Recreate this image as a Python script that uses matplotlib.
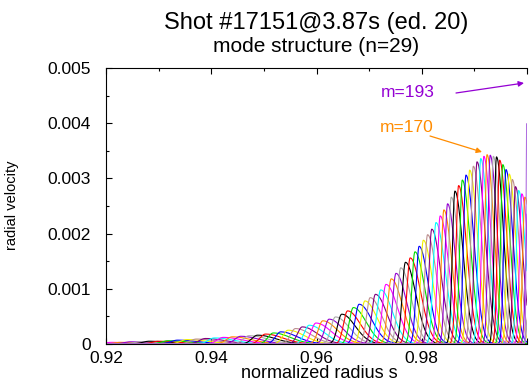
import numpy as np
import matplotlib
matplotlib.use("Agg")
import matplotlib.pyplot as plt
from matplotlib.ticker import MultipleLocator, FuncFormatter

plt.rcParams['font.family'] = ['Liberation Sans', 'DejaVu Sans']

# peak radius and peak amplitude of each harmonic (n=29)
peak_s = [0.9210, 0.9228, 0.9246, 0.9264, 0.9282, 0.9300, 0.9318, 0.9336, 0.9354, 0.9372,
          0.9389, 0.9406, 0.9423, 0.9440, 0.9456, 0.9472, 0.9488, 0.9503, 0.9518, 0.9532,
          0.9546, 0.9560, 0.9573, 0.9586, 0.9599, 0.9612, 0.9624, 0.9636, 0.9648, 0.9659,
          0.9670, 0.9681, 0.9692, 0.9702, 0.9712, 0.9722, 0.9732, 0.9742, 0.9751, 0.9760,
          0.9769, 0.9778, 0.9787, 0.9795, 0.9803, 0.9811, 0.9819, 0.9827, 0.9835, 0.9842,
          0.9849, 0.9856, 0.9863, 0.9870, 0.9877, 0.9884, 0.9891, 0.9898, 0.9905, 0.9912,
          0.9918, 0.9924, 0.9930, 0.9936, 0.9942, 0.9948, 0.9954, 0.9960, 0.9966, 0.9972,
          0.9978, 0.9984, 0.9990, 0.9996, 1.0002, 1.0008]
peak_amp = [0.00003, 0.00003, 0.00004, 0.00004, 0.00005, 0.00005, 0.00006, 0.00007, 0.00008, 0.00009,
            0.00010, 0.00011, 0.00012, 0.00013, 0.00014, 0.00015, 0.00016, 0.00018, 0.00020, 0.00022,
            0.00025, 0.00028, 0.00031, 0.00034, 0.00038, 0.00042, 0.00045, 0.00049, 0.00054, 0.00060,
            0.00066, 0.00072, 0.00078, 0.00084, 0.00090, 0.00098, 0.00108, 0.00118, 0.00128, 0.00138,
            0.00148, 0.00156, 0.00167, 0.00177, 0.00188, 0.00198, 0.00208, 0.00220, 0.00232, 0.00243,
            0.00254, 0.00266, 0.00277, 0.00287, 0.00297, 0.00306, 0.00315, 0.00322, 0.00330, 0.00336,
            0.00340, 0.00343, 0.00342, 0.00340, 0.00339, 0.00333, 0.00325, 0.00316, 0.00308, 0.00298,
            0.00285, 0.00278, 0.00272, 0.00266, 0.00262, 0.00258]
m_first = 109

# the m=193 harmonic sits right on the edge
edge_m = 193
edge_s = 0.99995
edge_amp = 0.0040

colors = ['#ff8c00', '#9400d3', '#a9a9a9', 'black', 'red', '#00dd00',
          'blue', '#f0f000', '#bc8f8f', '#800080', 'cyan', 'magenta']

fig = plt.figure(figsize=(5.29, 3.85), dpi=100)
ax = fig.add_axes([106 / 529, 41 / 385, 421 / 529, 276 / 385])

s = np.linspace(0.918, 1.002, 4000)
spacing = np.gradient(peak_s)
for i, (p, a, d) in enumerate(zip(peak_s, peak_amp, spacing)):
    m = m_first + i
    left = a * np.exp(-0.5 * ((s - p) / (0.7 * d)) ** 2)
    right = a * np.exp(-0.5 * ((s - p) / (2.2 * d)) ** 2)
    ax.plot(s, np.where(s < p, left, right), color=colors[(m - 170) % len(colors)], lw=0.8)

edge = edge_amp * np.exp(-0.5 * ((s - edge_s) / 0.00012) ** 2)
ax.plot(s, edge, color='#b070e0', lw=0.8)

ax.set_xlim(0.92, 1.0)
ax.set_ylim(0, 0.005)
ax.xaxis.set_major_locator(MultipleLocator(0.02))
ax.xaxis.set_minor_locator(MultipleLocator(0.01))
ax.yaxis.set_major_locator(MultipleLocator(0.001))
ax.yaxis.set_minor_locator(MultipleLocator(0.0005))
# the label at s=1 falls outside the picture in the original
ax.xaxis.set_major_formatter(FuncFormatter(lambda v, _: f"{v:g}" if v < 0.999 else ""))
ax.yaxis.set_major_formatter(FuncFormatter(lambda v, _: f"{v:g}"))
ax.tick_params(which='both', direction='in', top=True, right=False, width=0.8)
ax.tick_params(which='major', length=4.5, labelsize=12.5)
ax.tick_params(which='minor', length=2.5)
ax.tick_params(axis='y', pad=11)
ax.tick_params(axis='x', pad=5)
ax.spines['right'].set_visible(False)
for sp in ('left', 'top', 'bottom'):
    ax.spines[sp].set_linewidth(0.8)

# labels and arrows for two harmonics
ax.text(0.97739, 0.004565, 'm=193', color='#9400d3', fontsize=12.5, ha='center', va='center')
ax.annotate('', xy=(0.99943, 0.004728), xytext=(0.98651, 0.004547),
            arrowprops=dict(arrowstyle='-|>', color='#9400d3', lw=0.9,
                            mutation_scale=8, shrinkA=0, shrinkB=0))
ax.text(0.97720, 0.003931, 'm=170', color='#ff8c00', fontsize=12.5, ha='center', va='center')
ax.annotate('', xy=(0.99145, 0.003478), xytext=(0.98157, 0.003768),
            arrowprops=dict(arrowstyle='-|>', color='#ff8c00', lw=0.9,
                            mutation_scale=8, shrinkA=0, shrinkB=0))

fig.text(316.5 / 529, 1 - 23 / 385, 'Shot #17151@3.87s (ed. 20)', ha='center', va='center', fontsize=17)
fig.text(316.5 / 529, 1 - 46 / 385, 'mode structure (n=29)', ha='center', va='center', fontsize=15)
fig.text(319 / 529, 1 - 373 / 385, 'normalized radius s', ha='center', va='center', fontsize=13)
fig.text(12 / 529, 1 - 205 / 385, 'radial velocity', ha='center', va='center', rotation=90, fontsize=10.5)

fig.savefig('out.png', dpi=100)
